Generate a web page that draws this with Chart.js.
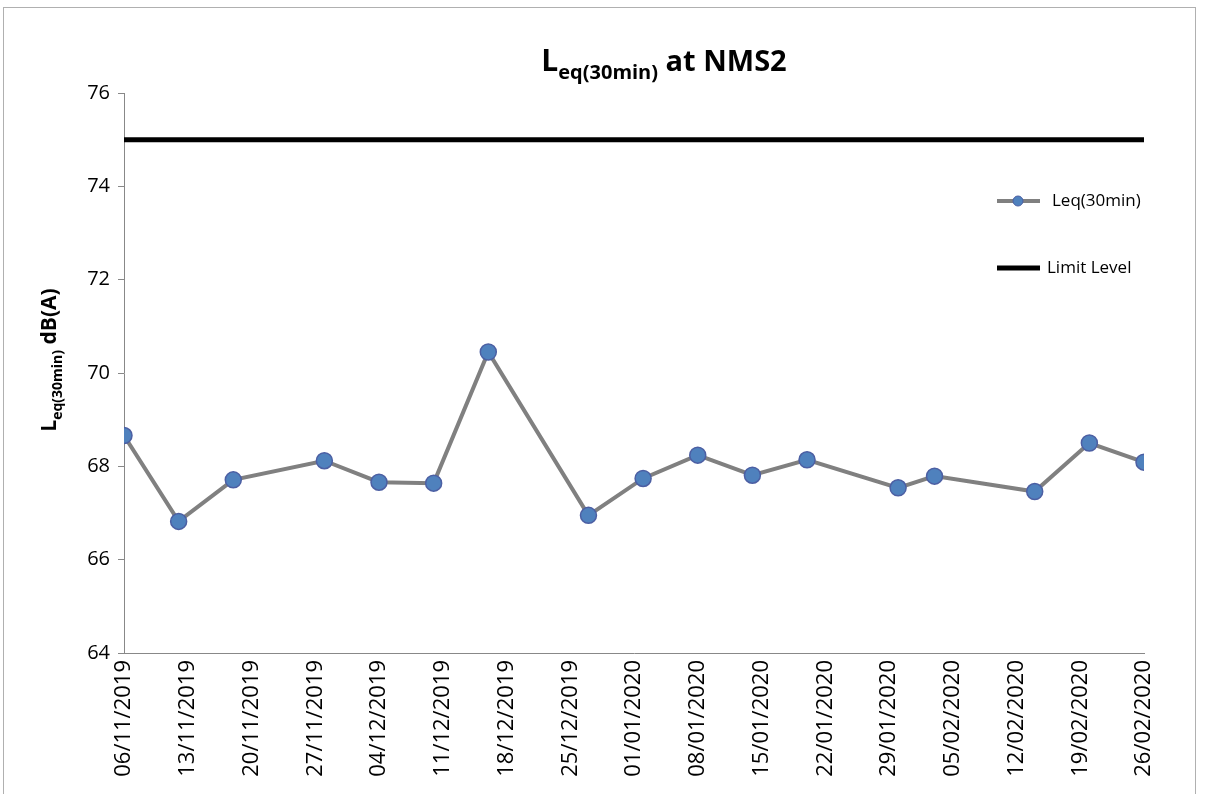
<!DOCTYPE html>
<html>
<head>
<meta charset="utf-8">
<script src="https://cdn.jsdelivr.net/npm/chart.js@4"></script>
<style>
  html, body { margin: 0; padding: 0; background: #fff; }
  #wrap { width: 1205px; height: 794px; }
</style>
</head>
<body>
<div id="wrap"><canvas id="chart" width="1205" height="794"></canvas></div>
<script>
// sample dates and Leq(30min) readings
const sampleDates = [
  '06/11/2019', '12/11/2019', '18/11/2019', '28/11/2019', '04/12/2019', '10/12/2019',
  '16/12/2019', '27/12/2019', '02/01/2020', '08/01/2020', '14/01/2020', '20/01/2020',
  '30/01/2020', '03/02/2020', '14/02/2020', '20/02/2020', '26/02/2020'
];
const leqValues = [
  68.66, 66.82, 67.71, 68.12, 67.66, 67.64,
  70.45, 66.95, 67.74, 68.24, 67.81, 68.14,
  67.54, 67.79, 67.46, 68.50, 68.09
];
const limitLevel = 75;

// axis range
const axisStartDate = '06/11/2019';
const axisEndDate = '26/02/2020';
const tickStepDays = 7;
const yMin = 64;
const yMax = 76;
const yStep = 2;

const DAY = 24 * 3600 * 1000;
const FONT = '"Open Sans", "Liberation Sans", sans-serif';

function parseDate(s) {
  const [d, m, y] = s.split('/').map(Number);
  return Date.UTC(y, m - 1, d);
}
const startMs = parseDate(axisStartDate);
const dayOf = (s) => Math.round((parseDate(s) - startMs) / DAY);
const pad2 = (n) => String(n).padStart(2, '0');
function fmtDay(day) {
  const d = new Date(startMs + day * DAY);
  return `${pad2(d.getUTCDate())}/${pad2(d.getUTCMonth() + 1)}/${d.getUTCFullYear()}`;
}

const endDay = dayOf(axisEndDate);

// draw text runs with subscripts, left to right
function drawRuns(ctx, x, y, runs) {
  let cx = x;
  runs.forEach((r) => {
    ctx.font = r.font;
    ctx.fillText(r.text, cx, y + (r.dy || 0));
    cx += ctx.measureText(r.text).width;
  });
}
function runsWidth(ctx, runs) {
  return runs.reduce((w, r) => { ctx.font = r.font; return w + ctx.measureText(r.text).width; }, 0);
}

const frame = {
  id: 'frame',
  beforeDraw(chart) {
    const { ctx } = chart;
    ctx.save();
    ctx.fillStyle = '#fff';
    ctx.fillRect(0, 0, chart.width, chart.height);
    ctx.strokeStyle = '#b0b0b0';
    ctx.lineWidth = 1;
    ctx.strokeRect(3.5, 7.5, 1192, 800);
    ctx.restore();
  }
};

const titles = {
  id: 'titles',
  afterDraw(chart) {
    const { ctx } = chart;
    ctx.save();
    ctx.fillStyle = '#000';
    ctx.textBaseline = 'alphabetic';
    ctx.textAlign = 'left';

    const main = [
      { text: 'L', font: `bold 30px ${FONT}` },
      { text: 'eq(30min)', font: `bold 20px ${FONT}`, dy: 8 },
      { text: ' at NMS2', font: `bold 29px ${FONT}` }
    ];
    const w = runsWidth(ctx, main);
    drawRuns(ctx, 664 - w / 2, 71, main);

    const yTitle = [
      { text: 'L', font: `bold 21px ${FONT}` },
      { text: 'eq(30min)', font: `bold 14px ${FONT}`, dy: 6 },
      { text: ' dB(A)', font: `bold 21px ${FONT}` }
    ];
    const wy = runsWidth(ctx, yTitle);
    ctx.translate(56, 360);
    ctx.rotate(-Math.PI / 2);
    drawRuns(ctx, -wy / 2, 0, yTitle);
    ctx.restore();
  }
};

const legendBox = {
  id: 'legendBox',
  afterDraw(chart) {
    const { ctx } = chart;
    const rows = [
      { ds: chart.data.datasets[0], y: 201, textX: 1052 },
      { ds: chart.data.datasets[1], y: 268, textX: 1047 }
    ];
    ctx.save();
    rows.forEach(({ ds, y, textX }) => {
      ctx.strokeStyle = ds.borderColor;
      ctx.lineWidth = ds.borderWidth;
      ctx.beginPath();
      ctx.moveTo(997, y);
      ctx.lineTo(1040, y);
      ctx.stroke();
      if (ds.pointRadius > 0) {
        ctx.beginPath();
        ctx.arc(1018, y, 5, 0, Math.PI * 2);
        ctx.fillStyle = ds.pointBackgroundColor;
        ctx.fill();
        ctx.lineWidth = 1;
        ctx.strokeStyle = ds.pointBorderColor;
        ctx.stroke();
      }
      ctx.fillStyle = '#000';
      ctx.font = `17px ${FONT}`;
      ctx.textBaseline = 'middle';
      ctx.fillText(ds.label, textX, y);
    });
    ctx.restore();
  }
};

new Chart(document.getElementById('chart'), {
  type: 'line',
  data: {
    datasets: [
      {
        label: 'Leq(30min)',
        data: sampleDates.map((d, i) => ({ x: dayOf(d), y: leqValues[i] })),
        borderColor: '#808080',
        borderWidth: 4,
        pointRadius: 8,
        pointHoverRadius: 8,
        pointBorderWidth: 1.5,
        pointBackgroundColor: '#4F81BD',
        pointBorderColor: '#4C5FA3',
        tension: 0
      },
      {
        label: 'Limit Level',
        data: [{ x: 0, y: limitLevel }, { x: endDay, y: limitLevel }],
        borderColor: '#000000',
        borderWidth: 5,
        pointRadius: 0,
        tension: 0
      }
    ]
  },
  options: {
    responsive: false,
    animation: false,
    events: [],
    layout: { padding: { top: 93, right: 61, left: 0, bottom: 0 } },
    plugins: {
      legend: { display: false },
      title: { display: false },
      tooltip: { enabled: false }
    },
    scales: {
      x: {
        type: 'linear',
        min: 0,
        max: endDay,
        afterFit: (s) => { s.height = 141; },
        afterBuildTicks: (s) => {
          const ticks = [];
          for (let d = 0; d <= endDay; d += tickStepDays) ticks.push({ value: d });
          s.ticks = ticks;
        },
        grid: { drawOnChartArea: false, drawTicks: false },
        border: { display: true, color: '#888888', width: 1 },
        ticks: {
          autoSkip: false,
          maxRotation: 90,
          minRotation: 90,
          padding: 7,
          color: '#000',
          font: { family: FONT, size: 22 },
          callback: (v) => fmtDay(v)
        }
      },
      y: {
        min: yMin,
        max: yMax,
        afterFit: (s) => { s.width = 124; },
        grid: { drawOnChartArea: false, drawTicks: true, tickLength: 6, color: '#888888' },
        border: { display: true, color: '#888888', width: 1 },
        ticks: {
          stepSize: yStep,
          padding: 8,
          color: '#000',
          font: { family: FONT, size: 20 }
        }
      }
    }
  },
  plugins: [frame, titles, legendBox]
});
</script>
</body>
</html>
